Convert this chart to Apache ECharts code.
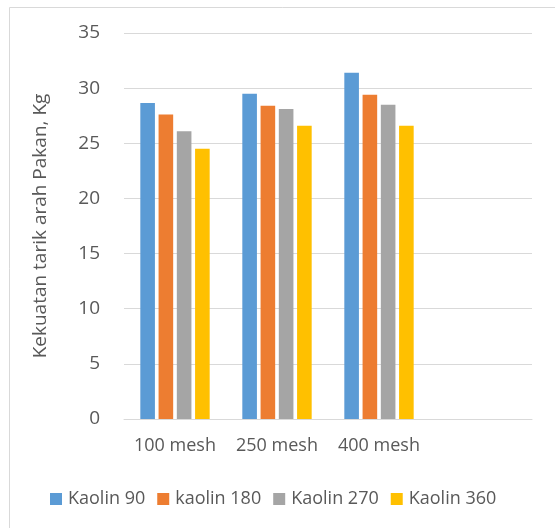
<!DOCTYPE html>
<html>
<head>
<meta charset="utf-8">
<script src="https://cdn.jsdelivr.net/npm/echarts@6/dist/echarts.min.js"></script>
<style>html,body{margin:0;padding:0;background:#fff}#c{width:555px;height:528px}</style>
</head>
<body>
<div id="c"></div>
<script>
const categories = ['100 mesh', '250 mesh', '400 mesh', ''];
const seriesNames = ['Kaolin 90', 'kaolin 180', 'Kaolin 270', 'Kaolin 360'];
const kaolin90 = [28.65, 29.5, 31.4, null];
const kaolin180 = [27.6, 28.4, 29.4, null];
const kaolin270 = [26.1, 28.1, 28.5, null];
const kaolin360 = [24.5, 26.6, 26.6, null];
const yTicks = { min: 0, max: 35, interval: 5 };
const colors = ['#5B9BD5', '#ED7D31', '#A5A5A5', '#FFC000'];

const values = [kaolin90, kaolin180, kaolin270, kaolin360];
const font = '"Open Sans", sans-serif';
const chart = echarts.init(document.getElementById('c'));
chart.setOption({
  animation: false,
  backgroundColor: '#fff',
  graphic: [{
    type: 'rect', left: 7, top: 5, shape: { width: 600, height: 600 },
    style: { fill: 'none', stroke: '#D9D9D9', lineWidth: 1 }, z: -1
  }],
  grid: { left: 124, right: 23, top: 33, bottom: 109 },
  legend: {
    bottom: 15, left: 45,
    itemWidth: 12, itemHeight: 12, itemGap: 12,
    icon: 'rect',
    textStyle: { color: '#595959', fontSize: 18, fontFamily: font, padding: [0, 0, 0, 1] },
    data: seriesNames
  },
  xAxis: {
    type: 'category', data: categories,
    axisLine: { lineStyle: { color: '#D9D9D9', width: 1 } },
    axisTick: { show: false },
    axisLabel: { color: '#595959', fontSize: 18, fontFamily: font, margin: 18, interval: 0 }
  },
  yAxis: {
    type: 'value', min: yTicks.min, max: yTicks.max, interval: yTicks.interval,
    name: 'Kekuatan tarik arah Pakan, Kg', nameLocation: 'middle', nameGap: 74,
    nameTextStyle: { color: '#595959', fontSize: 19, fontFamily: font },
    axisLine: { show: false }, axisTick: { show: false },
    axisLabel: { color: '#595959', fontSize: 19, fontFamily: font, margin: 24 },
    splitLine: { lineStyle: { color: '#D9D9D9', width: 1 } }
  },
  series: seriesNames.map((n, i) => ({
    name: n, type: 'bar', data: values[i],
    itemStyle: { color: colors[i] },
    barGap: '25%', barCategoryGap: '32%'
  }))
});
</script>
</body>
</html>
